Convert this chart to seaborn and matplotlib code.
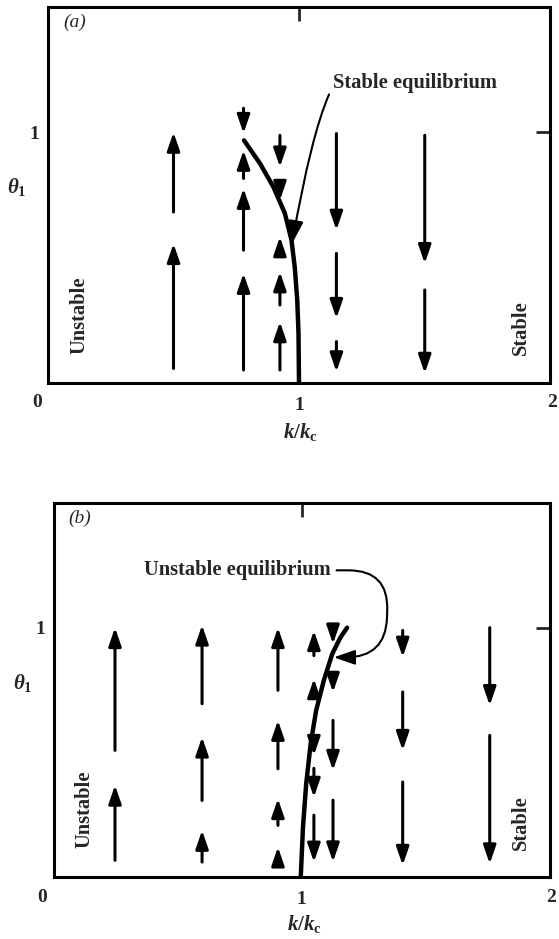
import matplotlib
matplotlib.use('Agg')
import matplotlib.pyplot as plt
import seaborn as sns

# panel (a): stable equilibrium curve (k/kc, theta_1)
a_curve_k = [0.781, 0.845, 0.898, 0.944, 0.970, 0.983, 0.993, 0.998, 1.0]
a_curve_theta = [0.968, 0.875, 0.782, 0.676, 0.570, 0.463, 0.331, 0.199, 0.0]

# panel (a): flow arrows, one entry per arrow (column, tail, head)
a_arrow_k = [0.50, 0.50,
             0.779, 0.779, 0.779, 0.779,
             0.924, 0.924, 0.924, 0.924, 0.924,
             1.149, 1.149, 1.149,
             1.501, 1.501]
a_arrow_from = [0.058, 0.682,
                1.096, 0.052, 0.530, 0.816,
                0.988, 0.782, 0.530, 0.311, 0.052,
                0.995, 0.517, 0.165,
                0.988, 0.371]
a_arrow_to = [0.556, 1.0,
              0.996, 0.437, 0.776, 0.928,
              0.862, 0.729, 0.583, 0.443, 0.244,
              0.610, 0.258, 0.045,
              0.477, 0.039]

# panel (b): unstable equilibrium curve
b_curve_k = [0.997, 1.006, 1.019, 1.037, 1.059, 1.090, 1.124, 1.157, 1.184]
b_curve_theta = [0.0, 0.201, 0.375, 0.535, 0.668, 0.788, 0.895, 0.961, 1.0]

# panel (b): flow arrows
b_arrow_k = [0.248, 0.248,
             0.599, 0.599, 0.599,
             0.905, 0.905, 0.905, 0.905,
             1.05, 1.05, 1.05, 1.05, 1.05,
             1.127, 1.127, 1.127, 1.127,
             1.408, 1.408, 1.408,
             1.759, 1.759]
b_arrow_from = [0.067, 0.508,
                0.060, 0.307, 0.695,
                0.067, 0.207, 0.434, 0.749,
                0.888, 0.748, 0.536, 0.436, 0.248,
                0.981, 0.821, 0.628, 0.308,
                0.989, 0.742, 0.381,
                1.0, 0.568]
b_arrow_to = [0.368, 1.0,
              0.187, 0.561, 1.01,
              0.120, 0.314, 0.628, 1.0,
              0.988, 0.795, 0.488, 0.320, 0.060,
              0.935, 0.741, 0.428, 0.061,
              0.882, 0.508, 0.047,
              0.688, 0.053]

sns.set_style('white')
plt.rcParams['font.family'] = ['Liberation Serif', 'DejaVu Serif']
plt.rcParams['font.weight'] = 'bold'
plt.rcParams['mathtext.fontset'] = 'custom'
plt.rcParams['mathtext.rm'] = 'Liberation Serif:bold'
plt.rcParams['mathtext.it'] = 'Liberation Serif:italic:bold'

FS = 14.8     # annotation / region labels
TS = 14       # tick labels


def draw_panel(ax, curve_k, curve_theta, arr_k, arr_from, arr_to, tag):
    sns.lineplot(x=curve_k, y=curve_theta, sort=False, estimator=None,
                 color='black', linewidth=3.2, ax=ax)
    for k, y0, y1 in zip(arr_k, arr_from, arr_to):
        ax.annotate('', xy=(k, y1), xytext=(k, y0),
                    arrowprops=dict(arrowstyle='-|>,head_length=1.1,head_width=0.38',
                                    color='black', lw=2.2, shrinkA=0, shrinkB=0,
                                    mutation_scale=10))
    ax.set_xlim(0, 2)
    ax.set_ylim(0, 1.5)
    ax.set_xticks([1])
    ax.set_xticklabels(['1'])
    ax.set_yticks([1])
    ax.set_yticklabels(['1'])
    ax.tick_params(direction='in', top=True, right=True, length=10, width=2,
                   labelsize=TS)
    ax.tick_params(axis='x', pad=10)
    ax.tick_params(axis='y', pad=6)
    for s in ax.spines.values():
        s.set_linewidth(2.2)
        s.set_color('black')
    ax.set_xlabel('')
    ax.set_ylabel('')
    # corner labels 0 and 2
    ax.annotate('0', xy=(0, 0), xytext=(-11, -20), textcoords='offset pixels',
                ha='center', va='center', fontsize=TS)
    ax.annotate('2', xy=(2, 0), xytext=(2, -20), textcoords='offset pixels',
                ha='center', va='center', fontsize=TS)
    ax.text(-0.062, 0.78, r'$\theta_1$', transform=ax.get_yaxis_transform(),
            ha='center', va='center', fontsize=TS + 1)
    ax.text(0.105, 1.44, '(' + tag + ')', fontsize=TS, fontstyle='italic',
            fontweight='normal', ha='center', va='center')
    ax.text(0.127, 0.27, 'Unstable', rotation=90, ha='center', va='center',
            fontsize=FS)
    ax.text(1.885, 0.22, 'Stable', rotation=90, ha='center', va='center',
            fontsize=FS)


fig = plt.figure(figsize=(5.59, 9.39), dpi=100)
ax_a = fig.add_axes([48 / 559, 1 - 383 / 939, 502 / 559, 376 / 939])
ax_b = fig.add_axes([53.5 / 559, 1 - 877 / 939, 496 / 559, 374 / 939])

draw_panel(ax_a, a_curve_k, a_curve_theta, a_arrow_k, a_arrow_from, a_arrow_to, 'a')
draw_panel(ax_b, b_curve_k, b_curve_theta, b_arrow_k, b_arrow_from, b_arrow_to, 'b')

ax_a.annotate('Stable equilibrium', xy=(0.972, 0.555), xytext=(1.135, 1.195),
              ha='left', va='center', fontsize=FS,
              arrowprops=dict(arrowstyle='-|>,head_length=1.4,head_width=0.45',
                              connectionstyle='angle3,angleA=62,angleB=80',
                              relpos=(0, 0.35), color='black', lw=1.5,
                              shrinkA=1, shrinkB=0, mutation_scale=10))

ax_b.annotate('Unstable equilibrium', xy=(1.13, 0.881), xytext=(1.117, 1.23),
              ha='right', va='center', fontsize=FS,
              arrowprops=dict(arrowstyle='-|>,head_length=1.3,head_width=0.45',
                              connectionstyle='arc,angleA=0,armA=58,angleB=0,armB=52,rad=40',
                              relpos=(1, 0.5), color='black', lw=1.5,
                              shrinkA=2, shrinkB=0, mutation_scale=10))

fig.text(300 / 559, 1 - 432 / 939, r'$k/k_{\mathrm{c}}$', ha='center', va='center',
         fontsize=TS + 1)
fig.text(304 / 559, 1 - 924 / 939, r'$k/k_{\mathrm{c}}$', ha='center', va='center',
         fontsize=TS + 1)

fig.savefig('out.png', dpi=100)
